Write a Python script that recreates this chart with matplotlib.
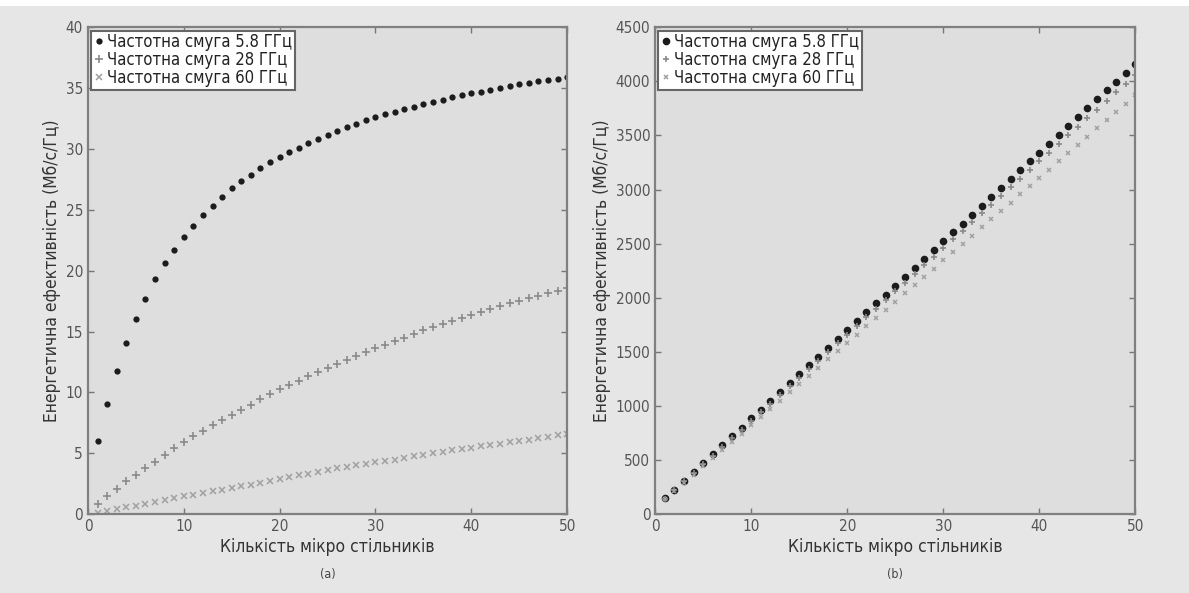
import matplotlib
matplotlib.use("Agg")
import matplotlib.pyplot as plt
from matplotlib.patches import Rectangle

plt.rcParams['font.family'] = ['DejaVu Sans']
plt.rcParams['font.stretch'] = 'condensed'

# x: number of micro cells
cells = [1, 2, 3, 4, 5, 6, 7, 8, 9, 10,
         11, 12, 13, 14, 15, 16, 17, 18, 19, 20,
         21, 22, 23, 24, 25, 26, 27, 28, 29, 30,
         31, 32, 33, 34, 35, 36, 37, 38, 39, 40,
         41, 42, 43, 44, 45, 46, 47, 48, 49, 50]

# (a) energy efficiency
a_58 = [6.0, 9.05, 11.8, 14.1, 16.0, 17.7, 19.3, 20.6, 21.7, 22.75,
        23.7, 24.6, 25.35, 26.05, 26.8, 27.4, 27.9, 28.4, 28.9, 29.35,
        29.75, 30.12, 30.5, 30.85, 31.18, 31.5, 31.78, 32.08, 32.36, 32.62,
        32.86, 33.08, 33.28, 33.47, 33.68, 33.87, 34.06, 34.25, 34.42, 34.56,
        34.72, 34.88, 35.04, 35.18, 35.31, 35.44, 35.56, 35.68, 35.79, 35.9]
a_28 = [0.85, 1.45, 2.1, 2.7, 3.2, 3.8, 4.3, 4.85, 5.4, 5.9,
        6.4, 6.8, 7.3, 7.73, 8.14, 8.55, 8.98, 9.42, 9.85, 10.25,
        10.6, 10.96, 11.32, 11.65, 11.98, 12.32, 12.64, 12.97, 13.3, 13.62,
        13.92, 14.22, 14.5, 14.8, 15.1, 15.35, 15.6, 15.86, 16.1, 16.36,
        16.58, 16.85, 17.1, 17.33, 17.55, 17.75, 17.95, 18.15, 18.35, 18.55]
a_60 = [0.1, 0.25, 0.4, 0.55, 0.7, 0.85, 1.0, 1.14, 1.3, 1.45,
        1.58, 1.72, 1.86, 2.0, 2.14, 2.28, 2.42, 2.56, 2.72, 2.88,
        3.02, 3.18, 3.32, 3.45, 3.62, 3.76, 3.89, 4.03, 4.12, 4.25,
        4.36, 4.47, 4.62, 4.76, 4.88, 5.01, 5.12, 5.24, 5.35, 5.45,
        5.57, 5.67, 5.78, 5.9, 6.01, 6.12, 6.24, 6.36, 6.48, 6.6]

# (b)
b_58 = [145, 226, 309, 392, 474, 555, 637, 719, 800, 884,
        966, 1046, 1128, 1210, 1292, 1374, 1456, 1538, 1620, 1702,
        1784, 1866, 1948, 2030, 2112, 2194, 2276, 2358, 2440, 2522,
        2604, 2686, 2768, 2850, 2932, 3014, 3096, 3178, 3260, 3342,
        3424, 3506, 3588, 3670, 3752, 3834, 3916, 3998, 4080, 4162]
b_28 = [142, 221, 302, 382, 462, 541, 621, 701, 780, 862,
        942, 1020, 1100, 1180, 1260, 1340, 1420, 1500, 1580, 1660,
        1740, 1820, 1900, 1980, 2060, 2140, 2220, 2300, 2380, 2460,
        2540, 2620, 2700, 2780, 2860, 2940, 3020, 3100, 3180, 3260,
        3340, 3420, 3500, 3580, 3660, 3740, 3820, 3900, 3980, 4060]
b_60 = [140, 210, 287, 364, 441, 516, 592, 668, 744, 822,
        898, 973, 1049, 1125, 1202, 1278, 1354, 1430, 1507, 1583,
        1659, 1735, 1812, 1888, 1964, 2040, 2117, 2193, 2269, 2345,
        2422, 2498, 2574, 2650, 2727, 2803, 2879, 2955, 3032, 3108,
        3184, 3260, 3337, 3413, 3489, 3565, 3642, 3718, 3794, 3870]

labels = ['Частотна смуга 5.8 ГГц', 'Частотна смуга 28 ГГц', 'Частотна смуга 60 ГГц']
xlabel = 'Кількість мікро стільників'
ylabel = 'Енергетична ефективність (Мб/с/Гц)'

fig = plt.figure(figsize=(11.89, 5.93), dpi=100, facecolor='#e6e6e6')
# white strip left at the top of the page crop
fig.patches.append(Rectangle((0, 0.99), 1, 0.01, transform=fig.transFigure,
                             facecolor='white', edgecolor='none'))
ax1 = fig.add_axes([0.074, 0.133, 0.403, 0.821])
ax2 = fig.add_axes([0.551, 0.133, 0.404, 0.821])

panels = [(ax1, a_58, a_28, a_60, 40, 5, '(a)', 4.5, 5.5),
          (ax2, b_58, b_28, b_60, 4500, 500, '(b)', 5.5, 4.5)]

for ax, s58, s28, s60, ymax, ystep, tag, ms, ms2 in panels:
    ax.set_facecolor('#dedede')
    ax.plot(cells, s58, 'o', color='#1c1c1c', ms=ms, mew=0, label=labels[0])
    ax.plot(cells, s28, '+', color='#8a8a8a', ms=ms2, mew=1.2, label=labels[1])
    ax.plot(cells, s60, 'x', color='#a0a0a0', ms=ms2 - 1.5, mew=1.1, label=labels[2])
    ax.set_xlim(0, 50)
    ax.set_ylim(0, ymax)
    ax.set_xticks(range(0, 51, 10))
    ax.set_yticks(range(0, ymax + 1, ystep))
    ax.tick_params(direction='in', length=4, width=1, colors='#777777',
                   labelcolor='#555555', labelsize=11, top=True, right=True)
    for sp in ax.spines.values():
        sp.set_color('#808080')
        sp.set_linewidth(1.6)
    ax.set_xlabel(xlabel, fontsize=12.5, color='#333333', labelpad=3)
    ax.set_ylabel(ylabel, fontsize=12.5, color='#333333', labelpad=3)
    leg = ax.legend(loc='upper left', fontsize=12, frameon=True, fancybox=False,
                    handlelength=0.6, handletextpad=0.2, borderpad=0.15,
                    labelspacing=0.0, borderaxespad=0.2, markerscale=1.0)
    leg.get_frame().set_edgecolor('#666666')
    leg.get_frame().set_linewidth(1.5)
    leg.get_frame().set_facecolor('white')
    leg.get_frame().set_alpha(1)
    for t in leg.get_texts():
        t.set_color('#222222')
    pos = ax.get_position()
    fig.text(pos.x0 + pos.width / 2, 0.02, tag, ha='center', va='bottom',
             fontsize=9, color='#444444')

fig.savefig('out.png', dpi=100, facecolor=fig.get_facecolor())
